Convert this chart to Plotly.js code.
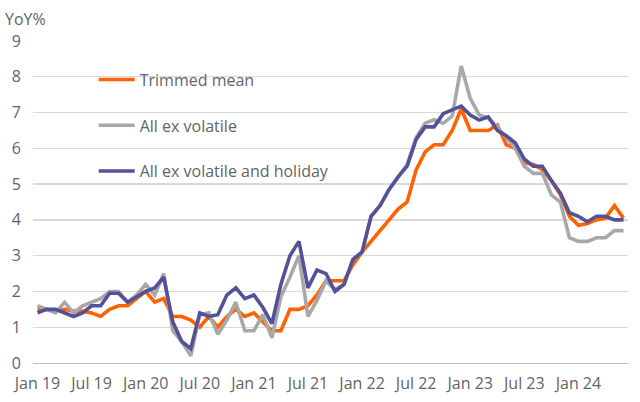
<!DOCTYPE html>
<html>
<head>
<meta charset="utf-8">
<script src="https://cdn.plot.ly/plotly-3.0.1.min.js"></script>
<style>
  html, body { margin: 0; padding: 0; background: #ffffff; }
  #chart { width: 640px; height: 402px; }
</style>
</head>
<body>
<div id="chart"></div>
<script>
const months = [
  'Jan 19','Feb 19','Mar 19','Apr 19','May 19','Jun 19','Jul 19','Aug 19','Sep 19','Oct 19','Nov 19','Dec 19',
  'Jan 20','Feb 20','Mar 20','Apr 20','May 20','Jun 20','Jul 20','Aug 20','Sep 20','Oct 20','Nov 20','Dec 20',
  'Jan 21','Feb 21','Mar 21','Apr 21','May 21','Jun 21','Jul 21','Aug 21','Sep 21','Oct 21','Nov 21','Dec 21',
  'Jan 22','Feb 22','Mar 22','Apr 22','May 22','Jun 22','Jul 22','Aug 22','Sep 22','Oct 22','Nov 22','Dec 22',
  'Jan 23','Feb 23','Mar 23','Apr 23','May 23','Jun 23','Jul 23','Aug 23','Sep 23','Oct 23','Nov 23','Dec 23',
  'Jan 24','Feb 24','Mar 24','Apr 24','May 24','Jun 24'
];

const trimmedMean = [
  1.5, 1.5, 1.45, 1.5, 1.45, 1.45, 1.4, 1.3, 1.5, 1.6, 1.6, 1.8,
  2.0, 1.7, 1.8, 1.3, 1.3, 1.2, 1.0, 1.3, 1.0, 1.3, 1.5, 1.3,
  1.4, 1.15, 0.9, 0.9, 1.5, 1.5, 1.6, 1.9, 2.3, 2.3, 2.3, 2.75,
  3.1, 3.4, 3.7, 4.0, 4.3, 4.5, 5.4, 5.9, 6.1, 6.1, 6.5, 7.1,
  6.5, 6.5, 6.5, 6.65, 6.1, 6.0, 5.6, 5.55, 5.4, 5.1, 4.7, 4.1,
  3.85, 3.9, 4.0, 4.05, 4.4, 4.05
];

const allExVolatile = [
  1.6, 1.5, 1.4, 1.7, 1.4, 1.6, 1.7, 1.8, 2.0, 2.0, 1.7, 1.9,
  2.2, 1.9, 2.5, 0.9, 0.6, 0.2, 1.35, 1.4, 0.8, 1.2, 1.7, 0.9,
  0.9, 1.35, 0.7, 1.85, 2.4, 3.0, 1.3, 1.75, 2.3, 2.05, 2.2, 2.9,
  3.1, 4.1, 4.4, 4.85, 5.2, 5.55, 6.3, 6.7, 6.8, 6.7, 6.9, 8.3,
  7.4, 6.93, 6.85, 6.6, 6.3, 6.0, 5.5, 5.3, 5.3, 4.7, 4.5, 3.5,
  3.4, 3.4, 3.5, 3.5, 3.7, 3.7
];

const allExVolatileHoliday = [
  1.4, 1.5, 1.5, 1.4, 1.3, 1.4, 1.6, 1.6, 1.95, 1.95, 1.7, 1.85,
  2.0, 2.1, 2.4, 1.15, 0.6, 0.4, 1.4, 1.3, 1.35, 1.9, 2.1, 1.8,
  1.9, 1.55, 1.1, 2.2, 3.0, 3.4, 2.1, 2.6, 2.5, 2.0, 2.2, 2.9,
  3.1, 4.1, 4.4, 4.85, 5.2, 5.5, 6.25, 6.6, 6.6, 6.97, 7.07, 7.18,
  6.93, 6.79, 6.88, 6.5, 6.35, 6.15, 5.7, 5.5, 5.5, 5.1, 4.75, 4.2,
  4.1, 3.95, 4.1, 4.1, 4.0, 4.0
];

const seriesNames = ['Trimmed mean', 'All ex volatile', 'All ex volatile and holiday'];
const seriesColors = ['#FF6200', '#A8A8A8', '#525199'];
const tickLabels = ['Jan 19','Jul 19','Jan 20','Jul 20','Jan 21','Jul 21','Jan 22','Jul 22','Jan 23','Jul 23','Jan 24'];
const yTicks = [0,1,2,3,4,5,6,7,8,9];

const FONT = 'Open Sans, Lato, sans-serif';
const TXT = '#646464';
const FS = 16;

const seriesData = [trimmedMean, allExVolatile, allExVolatileHoliday];
const traces = seriesData.map((vals, k) => ({
  type: 'scatter',
  mode: 'lines',
  x: months,
  y: vals,
  name: seriesNames[k],
  legendgroup: 'g' + k,
  line: { color: seriesColors[k], width: 3.6 },
  hoverinfo: 'x+y+name'
}));

const boundaryTicks = [];
for (let t = -0.5; t <= months.length - 0.5; t += 6) boundaryTicks.push(t);

const layout = {
  width: 640,
  height: 402,
  margin: { l: 33, r: 12, t: 41, b: 39 },
  paper_bgcolor: '#ffffff',
  plot_bgcolor: '#ffffff',
  font: { family: FONT, size: FS, color: TXT },
  showlegend: true,
  legend: {
    x: 0.102, xanchor: 'left',
    y: 0.933, yanchor: 'top',
    bgcolor: 'rgba(0,0,0,0)',
    font: { family: FONT, size: FS, color: TXT },
    traceorder: 'grouped',
    tracegroupgap: 22,
    itemwidth: 36
  },
  xaxis: {
    type: 'category',
    categoryorder: 'array',
    categoryarray: months,
    range: [-0.5, months.length - 0.5],
    tickvals: tickLabels,
    ticktext: tickLabels,
    ticks: 'outside',
    ticklen: 5,
    tickcolor: 'rgba(0,0,0,0)',
    showgrid: false,
    showline: true,
    linecolor: '#BFBFBF',
    linewidth: 1.3,
    zeroline: false,
    tickfont: { family: FONT, size: FS, color: TXT },
    fixedrange: true
  },
  xaxis2: {
    overlaying: 'x',
    anchor: 'y',
    type: 'linear',
    range: [-0.5, months.length - 0.5],
    tickvals: boundaryTicks,
    showticklabels: false,
    ticks: 'outside',
    ticklen: 7,
    tickwidth: 1.3,
    tickcolor: '#BFBFBF',
    showgrid: false,
    showline: false,
    zeroline: false
  },
  yaxis: {
    range: [0, 9],
    tickvals: yTicks,
    showgrid: true,
    gridcolor: '#D9D9D9',
    gridwidth: 1.3,
    zeroline: false,
    showline: false,
    ticks: 'outside',
    ticklen: 8,
    tickcolor: 'rgba(0,0,0,0)',
    tickfont: { family: FONT, size: FS, color: TXT },
    fixedrange: true
  },
  annotations: [{
    text: 'YoY%',
    xref: 'paper', yref: 'paper',
    x: -0.05, y: 1.0, xanchor: 'left', yanchor: 'bottom',
    yshift: 9,
    showarrow: false,
    font: { family: FONT, size: FS, color: TXT }
  }]
};

Plotly.newPlot('chart', traces, layout, { displayModeBar: false, staticPlot: true });
</script>
</body>
</html>
